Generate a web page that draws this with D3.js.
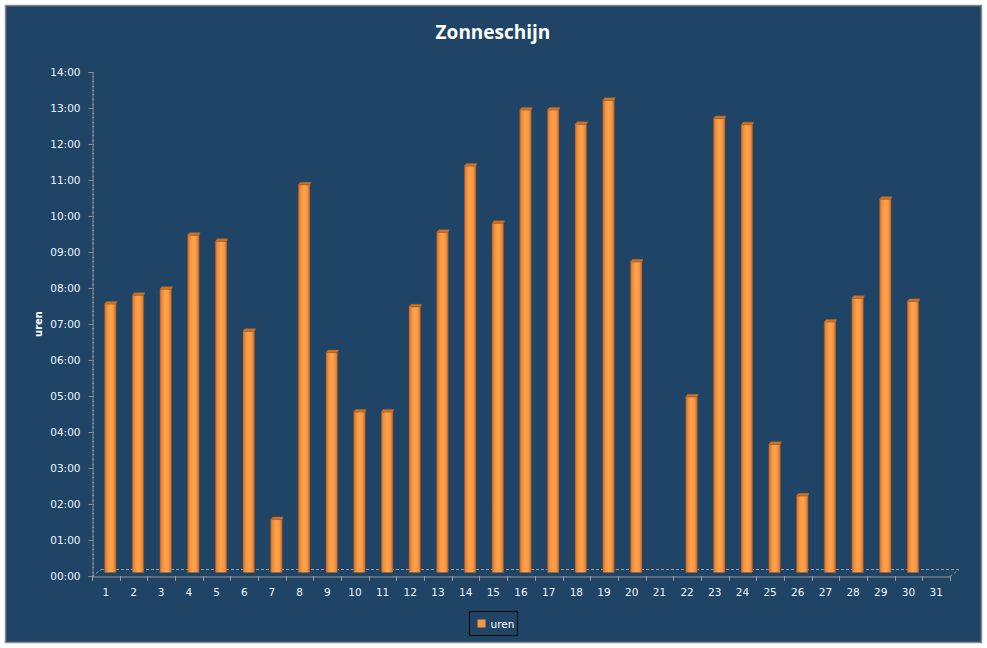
<!DOCTYPE html>
<html>
<head>
<meta charset="utf-8">
<script src="https://cdn.jsdelivr.net/npm/d3@7"></script>
<style>
  body { margin: 0; background: #ffffff; }
  text { font-family: "DejaVu Sans", Verdana, sans-serif; }
</style>
</head>
<body>
<script>
// days of the month and hours of sunshine (decimal hours)
var days = d3.range(1, 32).map(String);
var uren = [7.46, 7.70, 7.87, 9.37, 9.20, 6.70, 1.47, 10.77, 6.11, 4.46,
  4.46, 7.38, 9.45, 11.29, 9.70, 12.85, 12.85, 12.45, 13.12, 8.63,
  null, 4.88, 12.61, 12.44, 3.56, 2.13, 6.96, 7.62, 10.37, 7.53, null];
var yTicks = d3.range(0, 15);
var seriesName = "uren";

var width = 987, height = 648;
var plot = { left: 92, right: 950, top: 72, bottom: 576 };
var depth = { dx: 9, dy: -7 };

var svg = d3.select("body").append("svg")
  .attr("width", width)
  .attr("height", height);

// gradient for the cylinder-like bars
var defs = svg.append("defs");
var grad = defs.append("linearGradient").attr("id", "barGrad")
  .attr("x1", "0%").attr("x2", "100%").attr("y1", "0%").attr("y2", "0%");
[["0%", "#c96d28"], ["18%", "#f08c3a"], ["50%", "#ffa64f"], ["80%", "#f59240"], ["100%", "#c46826"]]
  .forEach(function (s) { grad.append("stop").attr("offset", s[0]).attr("stop-color", s[1]); });

// chart area
svg.append("rect")
  .attr("x", 5.5).attr("y", 5.5)
  .attr("width", 976).attr("height", 637)
  .attr("fill", "#1f4466")
  .attr("stroke", "#8a8a8a")
  .attr("stroke-width", 1.5);

// title
svg.append("text")
  .attr("x", 493).attr("y", 39)
  .attr("text-anchor", "middle")
  .style("font-family", "'Open Sans', sans-serif")
  .style("font-weight", "bold")
  .style("font-size", "19px")
  .attr("fill", "#ffffff")
  .text("Zonneschijn");

var x = d3.scaleBand()
  .domain(days)
  .range([plot.left, plot.right])
  .paddingInner(0).paddingOuter(0);

var y = d3.scaleLinear()
  .domain([0, 14])
  .range([plot.bottom, plot.top]);

// floor of the 3D plot
var floor = svg.append("g").attr("stroke", "#9a9a9a").attr("fill", "none");
floor.append("line")
  .attr("x1", plot.left + depth.dx).attr("x2", plot.right + depth.dx)
  .attr("y1", plot.bottom + depth.dy + 0.5).attr("y2", plot.bottom + depth.dy + 0.5)
  .attr("stroke-dasharray", "3,2");
floor.append("line")
  .attr("x1", plot.left).attr("y1", plot.bottom + 0.5)
  .attr("x2", plot.left + depth.dx).attr("y2", plot.bottom + depth.dy + 0.5)
  .attr("stroke-dasharray", "3,2");
floor.append("line")
  .attr("x1", plot.right).attr("y1", plot.bottom + 0.5)
  .attr("x2", plot.right + depth.dx).attr("y2", plot.bottom + depth.dy + 0.5)
  .attr("stroke-dasharray", "3,2");

// bars
var bw = 11.5;
var bars = svg.append("g").attr("class", "bars")
  .selectAll("g")
  .data(days.map(function (d, i) { return { day: d, v: uren[i] }; })
    .filter(function (d) { return d.v != null; }))
  .enter().append("g");

function bx(d) { return x(d.day) + x.bandwidth() / 2 + 4.5 - bw / 2; }
function by(d) { return y(d.v) + depth.dy / 2; }

bars.append("rect")
  .attr("x", bx)
  .attr("y", by)
  .attr("width", bw)
  .attr("height", function (d) { return plot.bottom + depth.dy / 2 - by(d); })
  .attr("fill", "url(#barGrad)")
  .attr("stroke", "#a8591e")
  .attr("stroke-width", 0.8)
  .attr("stroke-dasharray", "1,1");

// top cap
bars.append("path")
  .attr("d", function (d) {
    var x0 = bx(d), y0 = by(d);
    return "M" + x0 + "," + y0 + "L" + (x0 + 2) + "," + (y0 - 2.5) +
      "L" + (x0 + bw + 1) + "," + (y0 - 2.5) + "L" + (x0 + bw) + "," + y0 + "Z";
  })
  .attr("fill", "#c9752f")
  .attr("stroke", "#b0621f")
  .attr("stroke-width", 0.6);

// y axis
var yAxis = d3.axisLeft(y)
  .tickValues(yTicks)
  .tickSize(4)
  .tickPadding(8)
  .tickFormat(function (d) { return (d < 10 ? "0" : "") + d + ":00"; });

var gy = svg.append("g")
  .attr("transform", "translate(" + (plot.left + 0.5) + ",0)")
  .call(yAxis);
gy.select(".domain").attr("stroke", "#8c8c8c");
gy.selectAll(".tick line").attr("stroke", "#8c8c8c");
gy.selectAll(".tick text")
  .attr("fill", "#eef6ff")
  .style("font-size", "10.5px");

// minor ticks on the y axis
svg.append("g").selectAll("line")
  .data(d3.range(0, 14 * 8 + 1).map(function (i) { return i / 8; }))
  .enter().append("line")
  .attr("x1", plot.left + 0.5).attr("x2", plot.left + 2)
  .attr("y1", function (d) { return Math.round(y(d)) + 0.5; })
  .attr("y2", function (d) { return Math.round(y(d)) + 0.5; })
  .attr("stroke", "#8c8c8c");

// x axis
var gx = svg.append("g")
  .attr("transform", "translate(0," + (plot.bottom + 0.5) + ")")
  .call(d3.axisBottom(x).tickSize(0).tickPadding(12));
gx.select(".domain").attr("stroke", "#9a9a9a");
gx.selectAll(".tick text")
  .attr("fill", "#eef6ff")
  .style("font-size", "10.5px");

// tick marks between the categories
svg.append("g").selectAll("line")
  .data(days.concat(["end"]))
  .enter().append("line")
  .attr("x1", function (d, i) { return Math.round(plot.left + i * x.step()) + 0.5; })
  .attr("x2", function (d, i) { return Math.round(plot.left + i * x.step()) + 0.5; })
  .attr("y1", plot.bottom).attr("y2", plot.bottom + 5)
  .attr("stroke", "#9a9a9a");

// y axis title
svg.append("text")
  .attr("transform", "translate(42,324) rotate(-90)")
  .attr("text-anchor", "middle")
  .style("font-weight", "bold")
  .style("font-size", "10px")
  .attr("fill", "#ffffff")
  .text(seriesName);

// legend
var legend = svg.append("g").attr("transform", "translate(469.5,611.5)");
legend.append("rect")
  .attr("width", 48).attr("height", 24)
  .attr("fill", "none")
  .attr("stroke", "#000000");
legend.append("rect")
  .attr("x", 8).attr("y", 8)
  .attr("width", 8).attr("height", 8)
  .attr("fill", "#f79646");
legend.append("text")
  .attr("x", 21).attr("y", 16.5)
  .attr("fill", "#ffffff")
  .style("font-size", "10.5px")
  .text(seriesName);
</script>
</body>
</html>
